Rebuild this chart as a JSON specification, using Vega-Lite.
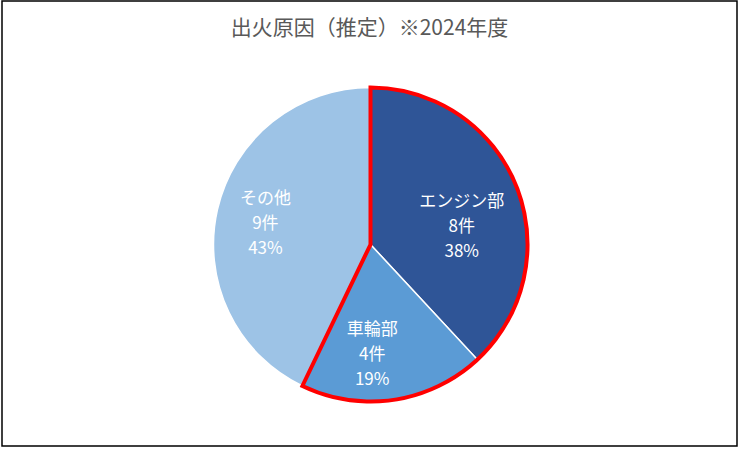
{
  "$schema": "https://vega.github.io/schema/vega-lite/v6.json",
  "width": 740,
  "height": 450,
  "autosize": {"type": "fit", "contains": "padding"},
  "padding": {"left": 2, "top": 1, "right": 3, "bottom": 4},
  "background": "white",
  "view": {"stroke": "black", "strokeWidth": 1.5, "fill": "white"},
  "title": {
    "text": "出火原因（推定）※2024年度",
    "offset": -38,
    "anchor": "middle",
    "font": "Noto Sans CJK JP",
    "fontSize": 21,
    "fontWeight": "normal",
    "color": "#595959"
  },
  "data": {
    "values": [
      {"出火原因": "エンジン部", "件数": 8, "割合": 38, "順": 1, "グループ": 1},
      {"出火原因": "車輪部", "件数": 4, "割合": 19, "順": 2, "グループ": 1},
      {"出火原因": "その他", "件数": 9, "割合": 43, "順": 3, "グループ": 2}
    ]
  },
  "transform": [
    {"calculate": "[datum['出火原因'], datum['件数'] + '件', datum['割合'] + '%']", "as": "ラベル"}
  ],
  "encoding": {
    "theta": {"field": "件数", "type": "quantitative", "stack": true},
    "order": {"field": "順", "type": "quantitative"}
  },
  "layer": [
    {
      "mark": {
        "type": "arc",
        "outerRadius": 157,
        "stroke": "white",
        "strokeWidth": 1.5,
        "x": {"expr": "width/2 + 1"},
        "y": {"expr": "height/2 + 21"}
      },
      "encoding": {
        "color": {
          "field": "出火原因",
          "type": "nominal",
          "scale": {
            "domain": ["エンジン部", "車輪部", "その他"],
            "range": ["#2F5597", "#5B9BD5", "#9DC3E6"]
          },
          "legend": null
        }
      }
    },
    {
      "transform": [
        {"aggregate": [{"op": "sum", "field": "件数", "as": "件数"}], "groupby": ["グループ"]}
      ],
      "mark": {
        "type": "arc",
        "outerRadius": 157,
        "fillOpacity": 0,
        "strokeWidth": 4,
        "strokeJoin": "miter",
        "x": {"expr": "width/2 + 1"},
        "y": {"expr": "height/2 + 21"}
      },
      "encoding": {
        "order": {"field": "グループ", "type": "quantitative"},
        "stroke": {
          "condition": {"test": "datum['グループ'] === 1", "value": "#FF0000"},
          "value": "transparent"
        }
      }
    },
    {
      "mark": {
        "type": "text", "radius": 98, "dy": -7,
        "font": "Noto Sans CJK JP", "fontSize": 17, "lineHeight": 25, "color": "white",
        "x": {"expr": "width/2 + 1"}, "y": {"expr": "height/2 + 21"}
      },
      "encoding": {
        "text": {"condition": {"test": "datum['順'] === 1", "field": "ラベル"}, "value": ""}
      }
    },
    {
      "mark": {
        "type": "text", "radius": 112, "dx": -15, "dy": -25,
        "font": "Noto Sans CJK JP", "fontSize": 17, "lineHeight": 25, "color": "white",
        "x": {"expr": "width/2 + 1"}, "y": {"expr": "height/2 + 21"}
      },
      "encoding": {
        "text": {"condition": {"test": "datum['順'] === 2", "field": "ラベル"}, "value": ""}
      }
    },
    {
      "mark": {
        "type": "text", "radius": 116, "dx": 8, "dy": -20,
        "font": "Noto Sans CJK JP", "fontSize": 17, "lineHeight": 25, "color": "white",
        "x": {"expr": "width/2 + 1"}, "y": {"expr": "height/2 + 21"}
      },
      "encoding": {
        "text": {"condition": {"test": "datum['順'] === 3", "field": "ラベル"}, "value": ""}
      }
    }
  ]
}
